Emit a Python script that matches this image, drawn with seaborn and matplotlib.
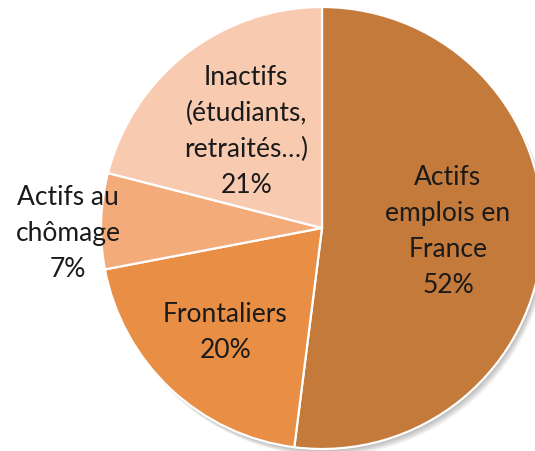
import numpy as np
import matplotlib
matplotlib.use("Agg")
import matplotlib.pyplot as plt
import seaborn as sns
from matplotlib.patches import Circle

labels = ["Actifs\nemplois en\nFrance", "Frontaliers", "Actifs au\nchômage", "Inactifs\n(étudiants,\nretraités…)"]
shares = [52, 20, 7, 21]
colors = ["#C47A3A", "#E98E45", "#F4AB7A", "#F8CBB0"]
label_dist = [0.57, 0.64, 1.15, 0.56]
label_turn = [2.3, 0.0, 2.8, 0.0]  # degrees, nudges labels along the arc

sns.set_theme(style="white")
plt.rcParams["font.family"] = ["Lato", "DejaVu Sans"]

fig = plt.figure(figsize=(5.35, 4.52), dpi=100)
ax = fig.add_axes([101 / 535, 2 / 452, 442 / 535, 442 / 452])
ax.axis("off")

# soft shadow behind the pie
for off in np.linspace(0.032, 0.006, 8):
    ax.add_patch(Circle((off * 0.7, -off), 1.0, color="#000000", alpha=0.035,
                        lw=0, zorder=0, clip_on=False))

wedges, _ = ax.pie(shares, colors=colors, startangle=90, counterclock=False,
                   radius=1.0, wedgeprops=dict(edgecolor="white", linewidth=1.6))
for w in wedges:
    w.set_clip_on(False)
    w.set_zorder(2)

for w, lab, v, d, t in zip(wedges, labels, shares, label_dist, label_turn):
    ang = np.deg2rad((w.theta1 + w.theta2) / 2 + t)
    ax.text(d * np.cos(ang), d * np.sin(ang), f"{lab}\n{v}%", ha="center", va="center",
            fontsize=19, color="#1a1a1a", linespacing=1.55, zorder=3, clip_on=False)

ax.set_xlim(-1, 1)
ax.set_ylim(-1, 1)
ax.set_aspect("equal")

fig.savefig("out.png", dpi=100)
